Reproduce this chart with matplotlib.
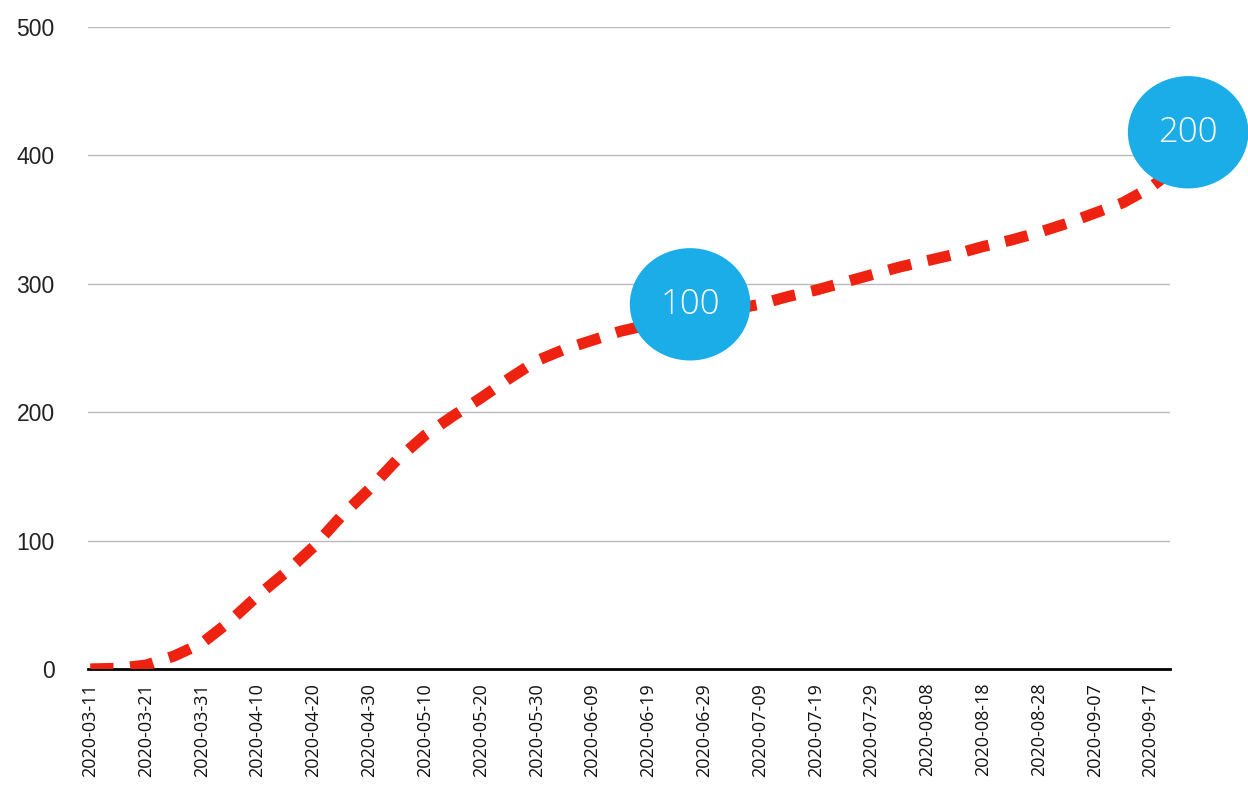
import matplotlib
matplotlib.use("Agg")
import matplotlib.pyplot as plt
import matplotlib.dates as mdates
from matplotlib.patches import Ellipse
import pandas as pd

# values, one every 5 days + last point
dates = pd.date_range("2020-03-11", periods=39, freq="5D").tolist() + [pd.Timestamp("2020-09-20")]
values = [0, 0.5, 3, 10, 20, 37, 57, 75, 95, 119,
          140, 163, 182, 197, 211, 226, 240, 249, 256, 263,
          268, 273, 277, 280, 284, 290, 295, 301, 307, 313,
          318, 323, 329, 334, 340, 347, 355, 363, 375, 385]

tick_dates = pd.date_range("2020-03-11", "2020-09-17", freq="10D")
y_ticks = [0, 100, 200, 300, 400, 500]

# bubble labels: (date, y, text)
bubbles = [(pd.Timestamp("2020-06-26 12:00"), 284, "100"),
           (pd.Timestamp("2020-09-23 18:00"), 418, "200")]

line_color = "#EE2211"
bubble_color = "#1AADE8"

fig = plt.figure(figsize=(12.48, 7.87), dpi=100)
ax = fig.add_axes([0.0705, 0.15, 0.867, 0.8157])

ax.plot(dates, values, color=line_color, lw=8, linestyle=(0, (2.1, 1.5)),
        dash_capstyle="butt", solid_capstyle="butt", zorder=3)

x0 = mdates.date2num(pd.Timestamp("2020-03-11")) - 0.4
x1 = mdates.date2num(pd.Timestamp("2020-03-11")) + 193.5
ax.set_xlim(x0, x1)
ax.set_ylim(0, 500)

for bd, by, txt in bubbles:
    e = Ellipse((mdates.date2num(bd), by), width=21.6, height=87.5,
                facecolor=bubble_color, edgecolor="none", zorder=4, clip_on=False)
    ax.add_patch(e)
    ax.text(mdates.date2num(bd), by, txt, ha="center", va="center", color="white",
            fontsize=25, family="Open Sans", fontweight="light", zorder=5, clip_on=False)

ax.set_yticks(y_ticks)
ax.set_yticklabels([str(v) for v in y_ticks], fontsize=16.5, family="Liberation Sans", color="#222222")
ax.set_xticks(mdates.date2num(tick_dates))
ax.set_xticklabels([d.strftime("%Y-%m-%d") for d in tick_dates], rotation=90,
                   fontsize=13, family="Open Sans", color="#111111", va="top")
ax.tick_params(axis="y", length=0, pad=24)
ax.tick_params(axis="x", length=0, pad=10)

ax.grid(axis="y", color="#BBBBBB", lw=1)
ax.set_axisbelow(True)
for s in ["left", "right", "top"]:
    ax.spines[s].set_visible(False)
ax.spines["bottom"].set_color("black")
ax.spines["bottom"].set_linewidth(2)
ax.spines["bottom"].set_zorder(2.5)

fig.savefig("out.png", dpi=100)
